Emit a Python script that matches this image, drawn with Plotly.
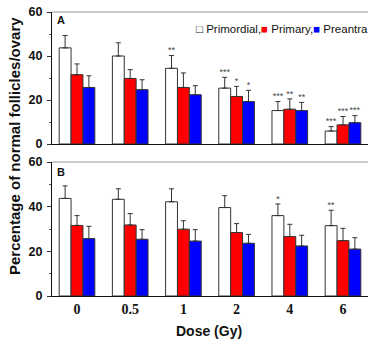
import plotly.graph_objects as go

# ---------------- data ----------------
doses = ["0", "0.5", "1", "2", "4", "6"]
series_names = ["Primordial", "Primary", "Preantral"]

a_primordial = [43.7, 40.0, 34.4, 25.4, 15.2, 5.9]
a_primordial_err = [5.6, 6.0, 5.8, 4.9, 4.1, 2.0]
a_primary = [31.5, 29.8, 25.7, 21.6, 15.8, 8.7]
a_primary_err = [4.9, 4.0, 6.6, 4.6, 4.7, 3.8]
a_preantral = [25.7, 24.7, 22.4, 19.3, 15.2, 9.7]
a_preantral_err = [5.3, 4.5, 4.1, 5.1, 3.7, 3.2]
a_primordial_sig = ["", "", "**", "***", "***", "***"]
a_primary_sig = ["", "", "", "*", "**", "***"]
a_preantral_sig = ["", "", "", "*", "**", "***"]

b_primordial = [43.7, 43.3, 42.2, 39.6, 36.0, 31.5]
b_primordial_err = [5.6, 4.7, 5.8, 5.3, 5.2, 6.9]
b_primary = [31.6, 31.8, 29.9, 28.4, 26.6, 24.8]
b_primary_err = [4.4, 5.1, 3.8, 4.0, 5.5, 5.5]
b_preantral = [25.7, 25.4, 24.6, 23.6, 22.4, 21.0]
b_preantral_err = [5.5, 4.3, 5.1, 4.0, 4.8, 5.1]
b_primordial_sig = ["", "", "", "", "*", "**"]
b_primary_sig = ["", "", "", "", "", ""]
b_preantral_sig = ["", "", "", "", "", ""]

y_ticks = [0, 20, 40, 60]

# ---------------- style ----------------
colors = ["#ffffff", "#ff0000", "#0000ff"]
W, H = 368, 342
ML, MR, MT, MB = 52, 0, 12, 46
PW, PH = W - ML - MR, H - MT - MB
BARGAP = 0.33


def px_x(px):
    return (px - ML) / PW


def px_y(py):
    return (H - MB - py) / PH


fig = go.Figure()
xs = list(range(len(doses)))
bw = (1 - BARGAP) / 3

panels = [
    ("x", "y", [a_primordial, a_primary, a_preantral],
     [a_primordial_err, a_primary_err, a_preantral_err],
     [a_primordial_sig, a_primary_sig, a_preantral_sig]),
    ("x2", "y2", [b_primordial, b_primary, b_preantral],
     [b_primordial_err, b_primary_err, b_preantral_err],
     [b_primordial_sig, b_primary_sig, b_preantral_sig]),
]

for xa, ya, vals, errs, sigs in panels:
    for j in range(3):
        fig.add_trace(go.Bar(
            x=xs, y=vals[j], name=series_names[j], xaxis=xa, yaxis=ya,
            marker=dict(color=colors[j], line=dict(color="#333333", width=1)),
            error_y=dict(type="data", symmetric=False, array=errs[j],
                         arrayminus=[0] * len(xs), color="#333333",
                         thickness=1, width=2.5),
            showlegend=False, offsetgroup=str(j),
        ))
        fig.add_trace(go.Scatter(
            x=[i + (j - 1) * bw for i in xs],
            y=[v + e for v, e in zip(vals[j], errs[j])],
            text=sigs[j], mode="text", textposition="top center",
            textfont=dict(size=9, color="#444444", family="Liberation Sans"),
            xaxis=xa, yaxis=ya, showlegend=False, hoverinfo="skip",
        ))

xcommon = dict(range=[-0.47, 5.47], showline=True, linecolor="#111111",
               linewidth=1.2, ticks="", showgrid=False, zeroline=False,
               tickvals=xs, ticktext=doses)
ycommon = dict(range=[0, 60], tickvals=y_ticks, showline=True,
               linecolor="#111111", linewidth=1.2, ticks="outside",
               ticklen=4, tickwidth=1, tickcolor="#333333", showgrid=False,
               zeroline=False, ticklabelstandoff=2,
               tickfont=dict(family="Liberation Sans", size=12.5,
                             color="#111111", weight="bold"),
               minor=dict(tickvals=[10, 30, 50], ticks="outside", ticklen=2,
                          tickcolor="#555555"))

fig.update_layout(
    width=W, height=H,
    margin=dict(l=ML, r=MR, t=MT, b=MB),
    paper_bgcolor="white", plot_bgcolor="white",
    barmode="group", bargap=BARGAP, bargroupgap=0,
    xaxis=dict(**xcommon, anchor="y", showticklabels=False),
    yaxis=dict(**ycommon, domain=[px_y(144), 1.0], anchor="x"),
    xaxis2=dict(**xcommon, anchor="y2", showticklabels=True,
                tickfont=dict(family="Liberation Serif", size=14,
                              color="#111111", weight="bold")),
    yaxis2=dict(**ycommon, domain=[0.0, px_y(162)], anchor="x2"),
    showlegend=False,
)

# top frame lines of each panel
for yref in ["y domain", "y2 domain"]:
    fig.add_shape(type="line", xref="paper", yref=yref, x0=0, x1=1, y0=1, y1=1,
                  line=dict(color="#999999", width=1))

ann_font = dict(family="Liberation Sans", color="#111111")
fig.add_annotation(text="<b>A</b>", xref="paper", yref="paper",
                   x=px_x(55), y=px_y(20), xanchor="left", yanchor="middle",
                   showarrow=False, font=dict(size=11, **ann_font))
fig.add_annotation(text="<b>B</b>", xref="paper", yref="paper",
                   x=px_x(55), y=px_y(172), xanchor="left", yanchor="middle",
                   showarrow=False, font=dict(size=11, **ann_font))
fig.add_annotation(
    text="\u25a1 Primordial,<span style='color:#ff0000'>\u25a0</span> Primary,"
         "<span style='color:#0000ff'>\u25a0</span> Preantra",
    xref="paper", yref="paper", x=px_x(194), y=px_y(29),
    xanchor="left", yanchor="middle", showarrow=False,
    font=dict(size=11.5, **ann_font))
fig.add_annotation(text="<b>Percentage of normal follicles/ovary</b>",
                   xref="paper", yref="paper", x=px_x(14), y=px_y(146),
                   textangle=-90, xanchor="center", yanchor="middle",
                   showarrow=False, font=dict(size=15, **ann_font))
fig.add_annotation(text="<b>Dose (Gy)</b>", xref="paper", yref="paper",
                   x=px_x(209), y=px_y(331), xanchor="center",
                   yanchor="middle", showarrow=False,
                   font=dict(size=14, **ann_font))

fig.write_html("out.html")
